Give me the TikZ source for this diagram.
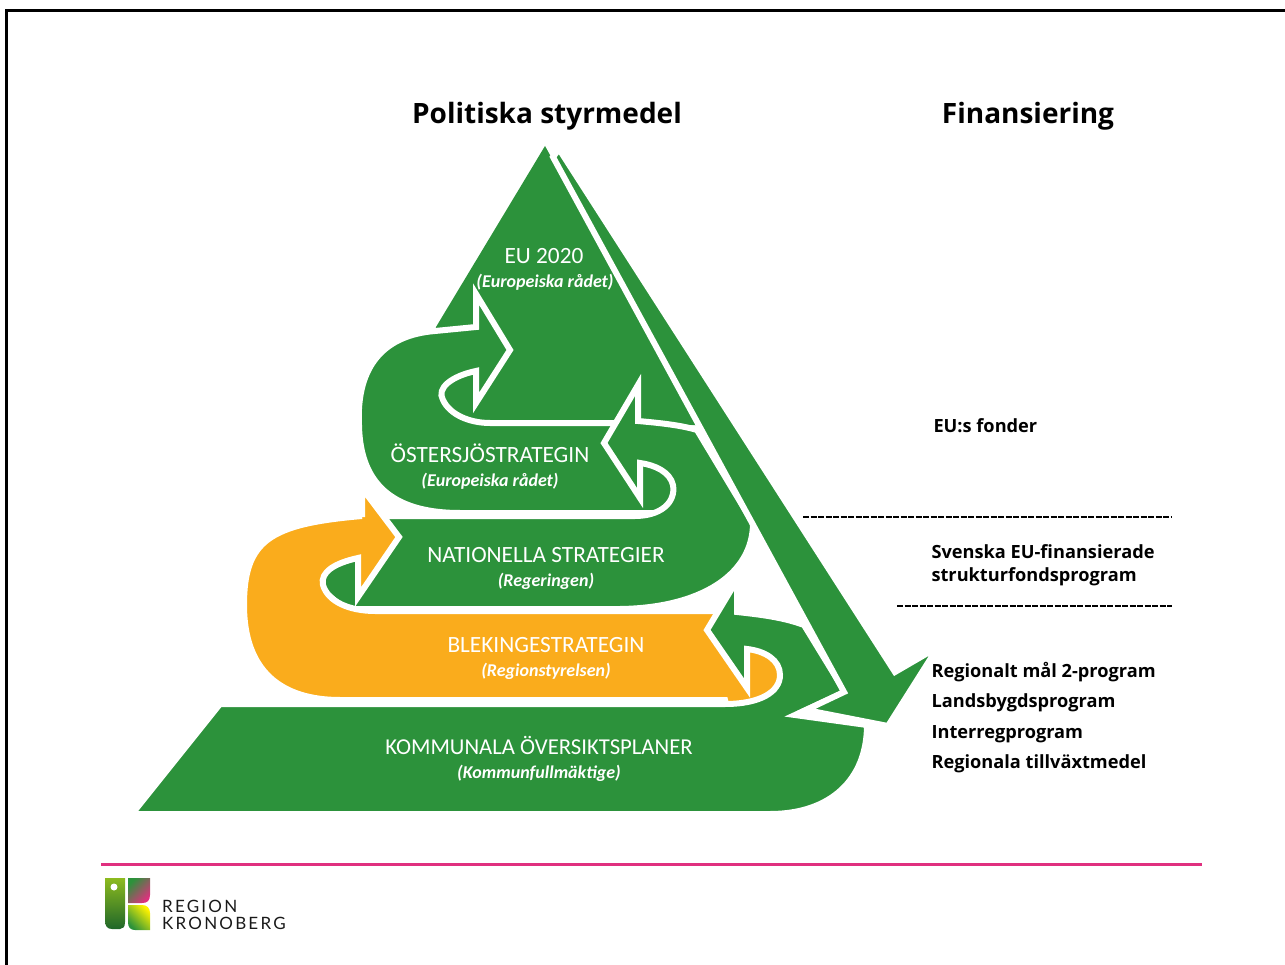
\documentclass[tikz,border=0pt]{standalone}
\usepackage{fontspec}
\usepackage{xcolor}
\setmainfont{Carlito}
\newfontfamily\headfont{Open Sans}
\newfontfamily\logofont[LetterSpace=13]{Lato}
\definecolor{pyrgreen}{HTML}{2C923B}
\definecolor{pyrorange}{HTML}{FAAC1C}
\definecolor{linepink}{HTML}{E0307F}
\definecolor{leafgreen}{HTML}{8DBB1F}
\tikzset{
  green part/.style={fill=pyrgreen,draw=white,line width=6pt},
  orange part/.style={fill=pyrorange,draw=white,line width=6pt},
  level/.style={text=white,font=\fontsize{23.3}{23.3}\selectfont},
  who/.style={text=white,font=\fontsize{18}{18}\selectfont\bfseries\itshape},
  head/.style={text=black,font=\headfont\fontsize{28}{28}\selectfont\bfseries},
  fund/.style={text=black,anchor=west,font=\headfont\fontsize{18.2}{18.2}\selectfont\bfseries},
  divider/.style={black,line width=2.5pt,dash pattern=on 6pt off 1.5pt},
  logotext/.style={anchor=west,inner sep=0pt,text=black!90,font=\logofont\fontsize{17}{17}\selectfont},
}
\begin{document}
\begin{tikzpicture}[x=1pt,y=-1pt]
\useasboundingbox (0,0) rectangle (1285,965);
\draw[black,line width=3pt] (6,965) -- (6,11) -- (1285,11);

% pyramid, from the top down
\fill[pyrgreen] (545,146) -- (700,425) -- (440,425) -- (425,400) -- (436,327) -- cycle;
\draw[green part] (435,331) -- (476,327) -- (476,294) -- (510,350) -- (476,403) -- (476,371)
  .. controls (452,376) and (436,388) .. (443,400)
  .. controls (450,415) and (470,423) .. (490,423) -- (640,423) -- (685,480) -- (670,513)
  -- (460,513) .. controls (400,513) and (360,490) .. (359,425)
  .. controls (356,365) and (385,335) .. (435,331) -- cycle;
\draw[green part] (385,516) -- (635,516) .. controls (660,516) and (676,503) .. (673,485)
  .. controls (670,472) and (655,465) .. (640,463) -- (640,498) -- (604,443) -- (638,385) -- (638,421)
  .. controls (660,423) and (680,425) .. (697,430) -- (753,523)
  .. controls (753,575) and (700,608) .. (620,609) -- (345,609) -- (310,580) -- (350,540) -- cycle;

\draw[orange part] (362,517) -- (362,488) -- (399,537) -- (358,597) -- (358,558)
  .. controls (335,563) and (320,572) .. (323,585)
  .. controls (328,602) and (350,611) .. (375,611) -- (730,611) -- (747,640) -- (790,645)
  -- (800,720) -- (730,720) -- (725,700) -- (340,700)
  .. controls (280,700) and (244,670) .. (244,605)
  .. controls (244,540) and (270,524) .. (362,516) -- cycle;

\draw[green part] (132,814) -- (220,704) -- (725,704) .. controls (760,704) and (780,692) .. (780,675)
  .. controls (780,660) and (765,651) .. (747,649) -- (747,688) -- (707,630) -- (737,580) -- (737,612)
  .. controls (765,615) and (785,618) .. (804,625) -- (845,692) -- (795,715) -- (867,725)
  .. controls (867,780) and (830,814) .. (770,814) -- cycle;

% long arrow down the right side
\draw[green part] (553,157) -- (844,692) -- (806,710) -- (888,726) -- (938,647) -- (895,672) -- (559,149) -- cycle;

\node[head] (politik) at (547,116) {Politiska styrmedel};
\node[head] (finans) at (1028,116) {Finansiering};

\node[level] (eu) at (544,256) {EU 2020};
\node[who] (euwho) at (545,282) {(Europeiska rådet)};
\node[level] (oster) at (490,453) {ÖSTERSJÖSTRATEGIN};
\node[who] (osterwho) at (490,481) {(Europeiska rådet)};
\node[level] (nat) at (546,555) {NATIONELLA STRATEGIER};
\node[who] (natwho) at (546,581) {(Regeringen)};
\node[level] (blek) at (546,645) {BLEKINGESTRATEGIN};
\node[who] (blekwho) at (546,671) {(Regionstyrelsen)};
\node[level,font=\fontsize{22.7}{22.7}\selectfont] (kom) at (539,745) {KOMMUNALA ÖVERSIKTSPLANER};
\node[who] (komwho) at (539,773) {(Kommunfullmäktige)};

\coordinate (divAl) at (803,517);
\coordinate (divAr) at (1172,517);
\coordinate (divBl) at (897,606);
\coordinate (divBr) at (1172,606);
\draw[divider] (divAl) -- (divAr);
\draw[divider] (divBl) -- (divBr);

\node[fund] (fonder) at (930,426) {EU:s fonder};
\node[fund] (sv) at (928,552) {Svenska EU-finansierade};
\node[fund] (struk) at (928,577) {strukturfondsprogram};
\node[fund] (reg) at (928,672) {Regionalt mål 2-program};
\node[fund] (land) at (928,703) {Landsbygdsprogram};
\node[fund] (inter) at (928,734) {Interregprogram};
\node[fund] (till) at (928,764) {Regionala tillväxtmedel};

% foot of the page
\coordinate (rulel) at (101,864);
\coordinate (ruler) at (1202,864);
\draw[linepink,line width=3pt] (rulel) -- (ruler);

\shade[top color=leafgreen,bottom color=pyrgreen!70!black]
  (105,878) -- (125,878) -- (125,922) .. controls (125,927) and (123,929) .. (120,929)
  -- (112,929) .. controls (107,929) and (105,926) .. (105,920) -- cycle;
\fill[white] (114,887) circle (3.5);
\shade[left color=pyrgreen,right color=linepink,shading angle=45]
  (128,878) -- (150,878) -- (150,895) .. controls (150,901) and (147,903) .. (142,903) -- (128,903) -- cycle;
\shade[left color=pyrgreen,right color=yellow!90!orange,shading angle=135]
  (128,905) -- (142,905) .. controls (147,905) and (150,908) .. (150,913) -- (150,930) -- (135,930)
  .. controls (130,930) and (128,927) .. (128,922) -- cycle;
\node[logotext] (rg) at (162,906) {REGION};
\node[logotext] (kr) at (162,923) {KRONOBERG};
\end{tikzpicture}
\end{document}
